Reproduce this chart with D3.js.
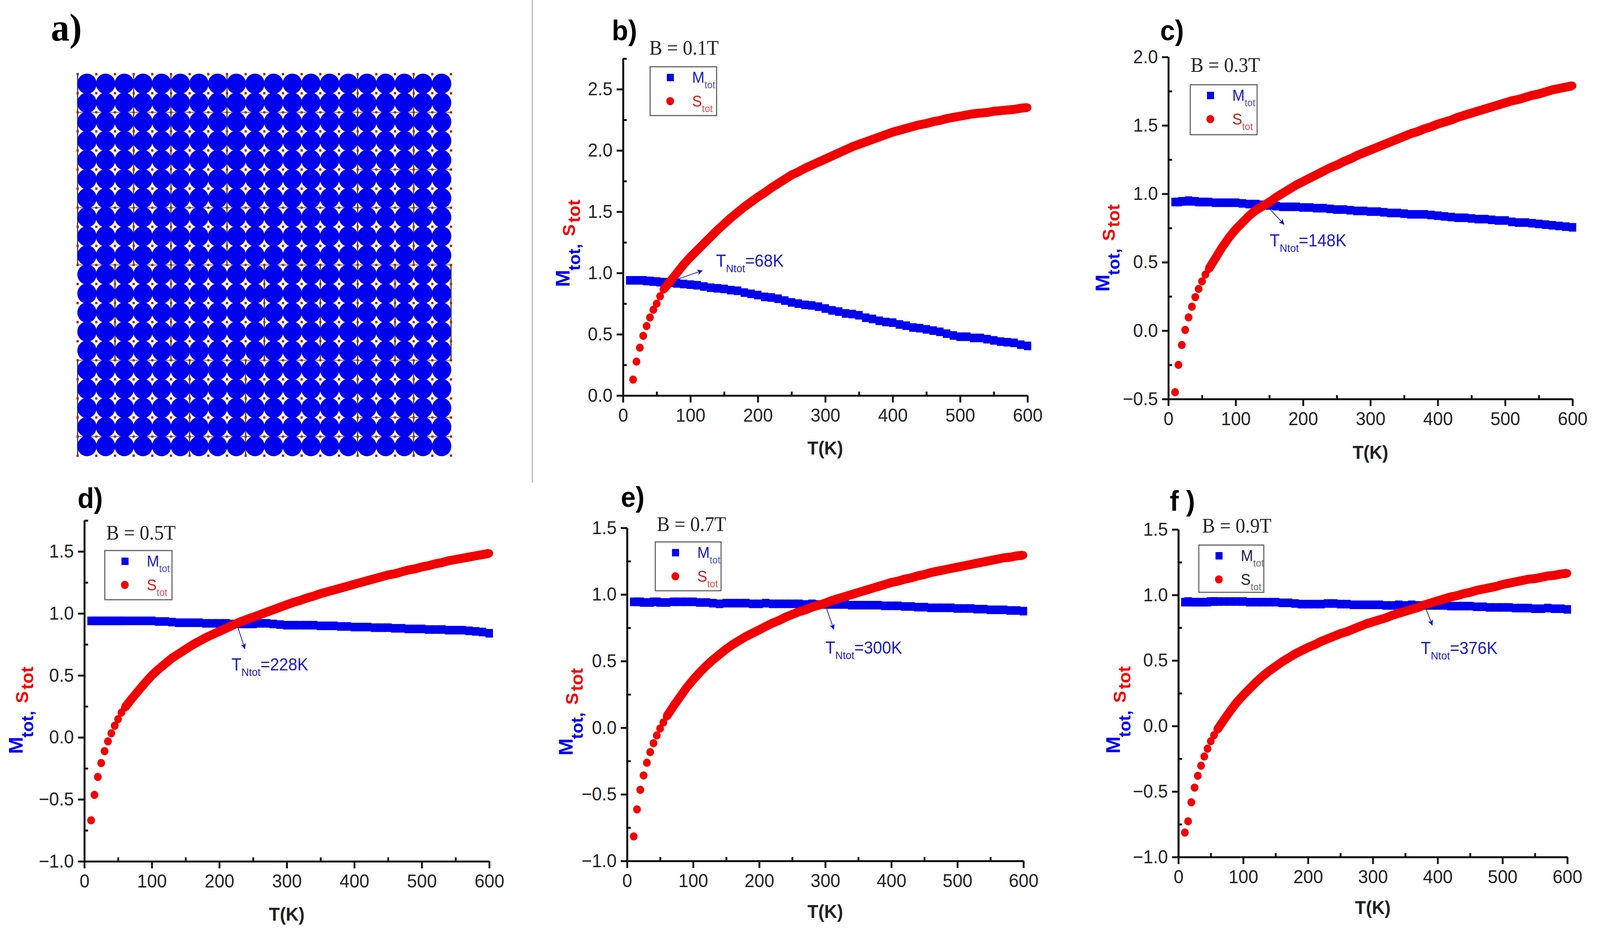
<!DOCTYPE html>
<html>
  <head>
    <meta charset="utf-8">
    <title>Mtot and Stot vs T</title>
    <script src="https://cdn.jsdelivr.net/npm/d3@7"></script>
    <style>
      html, body { margin: 0; padding: 0; background: #fff; overflow: hidden; }
      svg { display: block; width: 100vw; height: 100vh; }
      text { font-family: 'Liberation Sans', Arial, sans-serif; }
    </style>
  </head>
  <body>
    <svg viewBox="0 0 4307 2387" preserveAspectRatio="none" id="mainsvg"></svg>
    <script>
        // temperatures of the read points, K
        const tempK = [10,15,20,25,30,35,40,45,50,55,60,
          70,80,90,100,110,120,130,140,150,160,
          170,180,190,200,210,220,230,240,250,260,
          270,280,290,300,310,320,330,340,350,360,
          370,380,390,400,410,420,430,440,450,460,
          470,480,490,500,510,520,530,540,550,560,
          570,580,590,600];

        const mTotB = [.94,.94,.94,.94,.94,.935,.935,.93,.93,.925,.925,
          .92,.915,.91,.905,.9,.89,.88,.875,.87,.86,
          .855,.84,.83,.82,.805,.8,.79,.775,.76,.75,
          .74,.735,.725,.71,.695,.685,.67,.665,.655,.635,
          .625,.61,.6,.595,.58,.57,.555,.55,.54,.53,
          .52,.505,.49,.48,.48,.47,.47,.46,.45,.44,
          .435,.43,.415,.405];
        const sTotB = [null,.13,.277,.39,.487,.567,.637,.7,.75,.81,.865,
          .93,1,1.07,1.13,1.185,1.24,1.295,1.35,1.4,1.45,
          1.495,1.54,1.58,1.62,1.655,1.695,1.73,1.765,1.8,1.825,
          1.855,1.88,1.905,1.93,1.955,1.98,2.005,2.03,2.05,2.07,
          2.09,2.11,2.13,2.15,2.165,2.18,2.195,2.21,2.22,2.235,
          2.245,2.26,2.27,2.28,2.29,2.3,2.305,2.31,2.32,2.325,
          2.33,2.335,2.345,2.35];

        const mTotC = [.94,.94,.945,.945,.95,.945,.945,.94,.94,.94,.94,
          .935,.935,.935,.935,.93,.925,.925,.92,.915,.91,
          .905,.905,.905,.9,.9,.895,.895,.89,.885,.885,
          .88,.875,.875,.87,.87,.865,.86,.86,.855,.85,
          .85,.85,.845,.84,.835,.83,.825,.825,.82,.815,
          .815,.81,.805,.805,.795,.79,.79,.785,.78,.775,
          .77,.765,.76,.755];
        const sTotC = [-.45,-.25,-.105,.005,.097,.175,.245,.305,.36,.41,.45,
          .53,.61,.68,.74,.79,.84,.88,.91,.94,.975,
          1.005,1.035,1.065,1.09,1.115,1.14,1.165,1.19,1.21,1.235,
          1.255,1.28,1.3,1.32,1.34,1.36,1.38,1.4,1.42,1.44,
          1.455,1.475,1.49,1.51,1.525,1.54,1.56,1.575,1.59,1.605,
          1.62,1.635,1.65,1.665,1.68,1.69,1.705,1.72,1.73,1.745,
          1.76,1.77,1.78,1.79];

        const mTotD = [.94,.94,.94,.94,.94,.94,.94,.94,.94,.94,.94,
          .94,.94,.94,.94,.935,.935,.93,.925,.925,.925,
          .925,.92,.92,.92,.92,.915,.915,.915,.915,.92,
          .92,.915,.91,.905,.905,.905,.905,.905,.9,.9,
          .9,.895,.895,.89,.89,.89,.885,.885,.885,.88,
          .88,.875,.875,.875,.87,.87,.87,.865,.865,.865,
          .86,.855,.85,.84];
        const sTotD = [-.669,-.464,-.319,-.207,-.111,-.032,.033,.094,.147,.2,.24,
          .31,.375,.44,.5,.55,.595,.64,.675,.71,.745,
          .775,.805,.83,.855,.88,.905,.93,.95,.97,.99,
          1.01,1.03,1.05,1.07,1.09,1.105,1.125,1.14,1.16,1.175,
          1.19,1.205,1.22,1.235,1.25,1.265,1.28,1.295,1.31,1.32,
          1.335,1.35,1.36,1.375,1.385,1.4,1.41,1.425,1.435,1.445,
          1.455,1.465,1.475,1.485];

        const mTotE = [.945,.945,.945,.94,.94,.94,.945,.945,.94,.94,.94,
          .945,.945,.945,.945,.94,.94,.935,.93,.935,.935,
          .935,.935,.93,.93,.935,.93,.93,.93,.93,.93,
          .925,.93,.925,.925,.925,.925,.925,.92,.92,.92,
          .92,.92,.915,.915,.915,.91,.91,.905,.905,.9,
          .9,.9,.9,.895,.895,.895,.89,.89,.885,.885,
          .885,.88,.88,.875];
        const sTotE = [-.816,-.613,-.466,-.358,-.263,-.183,-.116,-.058,-.006,.04,.085,
          .16,.23,.3,.36,.415,.465,.51,.55,.59,.625,
          .655,.685,.71,.735,.76,.785,.805,.83,.85,.87,
          .885,.905,.92,.935,.955,.97,.985,1,1.015,1.03,
          1.045,1.06,1.075,1.09,1.1,1.115,1.125,1.14,1.15,1.165,
          1.175,1.185,1.195,1.205,1.215,1.225,1.235,1.245,1.255,1.265,
          1.275,1.28,1.29,1.295];

        const mTotF = [.945,.95,.945,.945,.945,.945,.945,.945,.95,.95,.95,
          .95,.95,.95,.95,.945,.945,.945,.945,.945,.94,
          .94,.935,.93,.93,.93,.93,.935,.935,.93,.93,
          .925,.925,.925,.925,.925,.92,.92,.925,.92,.925,
          .92,.92,.92,.92,.92,.915,.915,.915,.915,.91,
          .91,.905,.905,.905,.905,.9,.9,.9,.895,.895,
          .9,.895,.895,.89];
        const sTotF = [-.813,-.727,-.582,-.47,-.38,-.303,-.233,-.173,-.116,-.07,-.028,
          .045,.115,.18,.235,.285,.335,.38,.42,.455,.49,
          .52,.55,.575,.6,.62,.645,.665,.685,.705,.72,
          .74,.76,.78,.795,.81,.825,.845,.86,.875,.89,
          .905,.925,.94,.955,.97,.985,.995,1.01,1.02,1.035,
          1.045,1.055,1.065,1.08,1.09,1.1,1.11,1.12,1.125,1.135,
          1.145,1.15,1.16,1.165];

        const xTicks = [0,100,200,300,400,500,600];
        const xMinorTicks = [50,150,250,350,450,550];

        // panel layout: pixels for the frame, legend and labels, data units for the annotation
        const panels = [
          {tag:'b)', tagAt:[1647,103], field:'B = 0.1T', fieldAt:[1748,140], mTot:mTotB, sTot:sTotB, domain:[0,2.75],
           yTicks:[0,.5,1,1.5,2,2.5], yMinor:[.25,.75,1.25,1.75,2.25,2.75],
           left:1677, right:2766, top:150, bottom:1013, box:[1750,171,179,125], titleDy:151, yLabelAt:[1533,735],
           note:'=68K', noteAt:[138,1.05], tail:[79,.946], tip:[118,1.02]},
          {tag:'c)', tagAt:[3123,103], field:'B = 0.3T', fieldAt:[3205,184], mTot:mTotC, sTot:sTotC, domain:[-.5,2],
           yTicks:[-.5,0,.5,1,1.5,2], yMinor:[-.25,.25,.75,1.25,1.75],
           left:3145, right:4233, top:146, bottom:1022, box:[3204,217,180,128], titleDy:153, yLabelAt:[2986,747],
           note:'=148K', noteAt:[150.5,.617], tail:[150.5,.889], tip:[172,.775]},
          {tag:'d)', tagAt:[209,1301], field:'B = 0.5T', fieldAt:[286,1382], mTot:mTotD, sTot:sTotD, domain:[-1,1.75],
           yTicks:[-1,-.5,0,.5,1,1.5], yMinor:[-.75,-.25,.25,.75,1.25,1.75],
           left:227, right:1317, top:1333, bottom:2206, box:[282,1410,181,126], titleDy:152, yLabelAt:[61,1931],
           note:'=228K', noteAt:[218,.54], tail:[227,.895], tip:[238,.713]},
          {tag:'e)', tagAt:[1671,1298], field:'B = 0.7T', fieldAt:[1768,1360], mTot:mTotE, sTot:sTotE, domain:[-1,1.5],
           yTicks:[-1,-.5,0,.5,1,1.5], yMinor:[-.75,-.25,.25,.75,1.25],
           left:1688, right:2755, top:1352, bottom:2205, box:[1764,1388,177,125], titleDy:146, yLabelAt:[1541,1935],
           note:'=300K', noteAt:[300,.556], tail:[302,.896], tip:[313,.736]},
          {tag:'f )', tagAt:[3149,1308], field:'B = 0.9T', fieldAt:[3236,1364], mTot:mTotF, sTot:sTotF, domain:[-1,1.5],
           yTicks:[-1,-.5,0,.5,1,1.5], yMinor:[-.75,-.25,.25,.75,1.25],
           left:3172, right:4219, top:1356, bottom:2195, box:[3227,1396,175,121], titleDy:146, yLabelAt:[3015,1930],
           note:'=376K', noteAt:[374,.548], tail:[381,.906], tip:[392,.767], legendDark:true}
        ];

        // panel a: spin lattice, 20 x 20 cells
        const latticeCols = d3.range(20);
        const latticeRows = d3.range(20);
        const latticeNodes = d3.range(21);
        // [line index, from, to] in lattice units
        const vertLines = [[0,0,10],[3,0,10],[5,0,10],[8,0,10],[15,0,10],[18,0,10],
          [2,10,15],[5,10,15],[10,10,15],[13,10,15],[15,10,15],[17,10,15],[20,10,15],
          [0,15,20],[6,15,20],[9,15,20],[15,15,20],[18,15,20]];
        const horizLines = [[2,0,20],[7,0,20],[5,15,20],[10,0,20],[15,0,20],[18,15,20],[19,0,20]];

        const blue = '#0000ee';
        const red = '#f20000';
        const noteBlue = '#1c1cc0';

        const svg = d3.select('#mainsvg');
        svg.append('defs').append('marker').attr('id', 'arrowhead')
          .attr('viewBox', '0 0 10 10').attr('refX', 10).attr('refY', 5)
          .attr('markerUnits', 'userSpaceOnUse').attr('markerWidth', 20).attr('markerHeight', 14)
          .attr('orient', 'auto')
          .append('path').attr('d', 'M0,0L10,5L0,10L2.5,5Z').attr('fill', '#0a0ad0');

        // divider between panel a and the rest
        svg.append('line').attr('x1', 1433).attr('x2', 1433).attr('y1', 0).attr('y2', 1236)
          .attr('stroke', '#b5b5b5').attr('stroke-width', 3);

        // ---- panel a ----
        const ax = d3.scaleLinear().domain([0, 20]).range([209, 1214]);
        const ay = d3.scaleLinear().domain([0, 20]).range([190, 1167]);
        const aGroup = svg.append('g').attr('id', 'lattice');

        aGroup.selectAll('line.v').data(vertLines).join('line').attr('class', 'v')
          .attr('x1', d => ax(d[0])).attr('x2', d => ax(d[0]))
          .attr('y1', d => ay(d[1])).attr('y2', d => ay(d[2]))
          .attr('stroke', '#333').attr('stroke-width', 3);
        aGroup.selectAll('line.h').data(horizLines).join('line').attr('class', 'h')
          .attr('y1', d => ay(d[0])).attr('y2', d => ay(d[0]))
          .attr('x1', d => ax(d[1])).attr('x2', d => ax(d[2]))
          .attr('stroke', '#666').attr('stroke-width', 2);

        const cells = latticeRows.flatMap(r => latticeCols.map(c => ({r, c})));
        aGroup.selectAll('circle').data(cells).join('circle')
          .attr('cx', d => ax(d.c + .5)).attr('cy', d => ay(d.r + .5)).attr('r', 26)
          .attr('fill', blue);

        const nodes = latticeNodes.flatMap(r => latticeNodes.map(c => ({r, c})));
        aGroup.selectAll('rect').data(nodes).join('rect')
          .attr('x', d => ax(d.c) - 3).attr('y', d => ay(d.r) - 3)
          .attr('width', 6).attr('height', 6).attr('fill', '#b01818');

        svg.append('text').attr('x', 137).attr('y', 104)
          .style('font-family', "'Liberation Serif', serif").style('font-weight', 'bold')
          .style('font-size', '100px').attr('fill', '#000').text('a)');

        // ---- panels b to f ----
        panels.forEach(p => {
          const g = svg.append('g').attr('class', 'panel');
          const x = d3.scaleLinear().domain([0, 600]).range([p.left, p.right]);
          const y = d3.scaleLinear().domain(p.domain).range([p.bottom, p.top]);
          const points = tempK.map((t, i) => ({t, m: p.mTot[i], s: p.sTot[i]}));

          // markers
          g.append('g').selectAll('rect').data(points).join('rect')
            .attr('x', d => x(d.t) - 10).attr('y', d => y(d.m) - 11)
            .attr('width', 20).attr('height', 22).attr('fill', blue);

          // points are read every 10 K above 60 K, the line closes the band they form
          const band = d3.line().x(d => x(d.t)).y(d => y(d.s));
          g.append('path').datum(points.filter(d => d.t >= 60))
            .attr('d', band).attr('fill', 'none').attr('stroke', red)
            .attr('stroke-width', 23).attr('stroke-linejoin', 'round');
          g.append('g').selectAll('circle').data(points.filter(d => d.s !== null)).join('circle')
            .attr('cx', d => x(d.t)).attr('cy', d => y(d.s)).attr('r', 10.5).attr('fill', red);

          // axes: major ticks outside, minor ticks inside
          const xAxis = d3.axisBottom(x).tickValues(xTicks).tickSize(18).tickPadding(15).tickSizeOuter(0);
          const xMinor = d3.axisTop(x).tickValues(xMinorTicks).tickSize(10).tickFormat('').tickSizeOuter(0);
          const yAxis = d3.axisLeft(y).tickValues(p.yTicks).tickSize(17).tickPadding(11)
            .tickFormat(d3.format('.1f')).tickSizeOuter(0);
          const yMinor = d3.axisRight(y).tickValues(p.yMinor).tickSize(10).tickFormat('').tickSizeOuter(0);

          [[xAxis, p.bottom, 0], [xMinor, p.bottom, 0], [yAxis, 0, p.left], [yMinor, 0, p.left]].forEach(([axis, ty, tx]) => {
            const a = g.append('g').attr('transform', `translate(${tx}, ${ty})`).call(axis);
            a.selectAll('path').attr('stroke', '#111').attr('stroke-width', 5);
            a.selectAll('line').attr('stroke', '#111').attr('stroke-width', 5);
            a.selectAll('text').attr('fill', '#222').style('font-size', '48px');
          });

          // axis titles
          g.append('text').attr('x', x(300)).attr('y', p.bottom + p.titleDy)
            .attr('text-anchor', 'middle').attr('fill', '#222')
            .style('font-size', '48px').style('font-weight', 'bold').text('T(K)');

          const yLabel = g.append('text').style('font-weight', 'bold')
            .attr('transform', `translate(${p.yLabelAt[0]}, ${p.yLabelAt[1]}) rotate(-90)`);
          [['M', 0, 0, 53, blue], ['tot,', 42, 28, 44, blue], ['S', 130, 15, 46, red], ['tot', 165, 28, 46, red]]
            .forEach(([s, dx, dy, size, col]) => {
              yLabel.append('tspan').attr('x', dx).attr('y', dy).attr('fill', col)
                .style('font-size', size + 'px').text(s);
            });

          // panel tag and field value
          g.append('text').attr('x', p.tagAt[0]).attr('y', p.tagAt[1]).attr('fill', '#000')
            .style('font-size', '72px').style('font-weight', 'bold').text(p.tag);
          g.append('text').attr('x', p.fieldAt[0]).attr('y', p.fieldAt[1]).attr('fill', '#222')
            .style('font-family', "'Liberation Serif', serif").style('font-size', '52px').text(p.field);

          // legend
          const [bx, by, bw, bh] = p.box;
          g.append('rect').attr('x', bx).attr('y', by).attr('width', bw).attr('height', bh)
            .attr('fill', '#fff').attr('stroke', '#666').attr('stroke-width', 3);
          g.append('rect').attr('x', bx + 45).attr('y', by + 18).attr('width', 19).attr('height', 19).attr('fill', blue);
          g.append('circle').attr('cx', bx + 54).attr('cy', by + 88).attr('r', 10.5).attr('fill', red);
          [['M', 41, noteBlue], ['S', 102, '#d01c1c']].forEach(([s, dy, col]) => {
            const c = p.legendDark ? '#1a2050' : col;
            const t = g.append('text').attr('x', bx + 113).attr('y', by + dy).attr('fill', c).style('font-size', '40px');
            t.append('tspan').text(s);
            t.append('tspan').attr('dy', 14).attr('fill', p.legendDark ? '#444' : col).attr('fill-opacity', .8)
              .style('font-size', '26px').text('tot');
          });

          // Neel temperature annotation
          const note = g.append('text').attr('x', x(p.noteAt[0])).attr('y', y(p.noteAt[1]))
            .attr('fill', noteBlue).style('font-size', '44px');
          note.append('tspan').text('T');
          note.append('tspan').attr('dy', 14).style('font-size', '28px').text('Ntot');
          note.append('tspan').attr('dy', -14).text(p.note);
          g.append('line').attr('x1', x(p.tail[0])).attr('y1', y(p.tail[1]))
            .attr('x2', x(p.tip[0])).attr('y2', y(p.tip[1]))
            .attr('stroke', '#1c1cc0').attr('stroke-width', 2).attr('marker-end', 'url(#arrowhead)');
        });
    </script>
  </body>
</html>
